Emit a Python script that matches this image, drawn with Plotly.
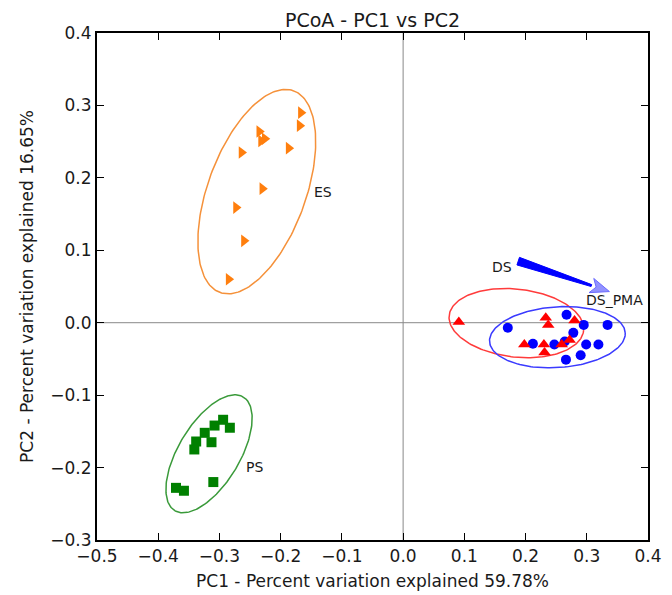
import numpy as np
import plotly.graph_objects as go

# ---- data ----
es_x = [-0.167, -0.169, -0.235, -0.226, -0.232, -0.187, -0.264, -0.230, -0.273, -0.260, -0.285]
es_y = [0.290, 0.272, 0.264, 0.254, 0.251, 0.241, 0.235, 0.185, 0.159, 0.113, 0.060]

ps_x = [-0.294, -0.283, -0.308, -0.324, -0.313, -0.338, -0.341, -0.310, -0.371, -0.358]
ps_y = [-0.134, -0.145, -0.142, -0.152, -0.165, -0.164, -0.175, -0.220, -0.228, -0.232]

ds_x = [0.091, 0.233, 0.237, 0.280, 0.198, 0.230, 0.231, 0.259, 0.272]
ds_y = [0.001, 0.007, -0.003, 0.003, -0.030, -0.030, -0.041, -0.030, -0.024]

pma_x = [0.171, 0.267, 0.295, 0.334, 0.278, 0.212, 0.247, 0.299, 0.319, 0.266, 0.290, 0.264]
pma_y = [-0.007, 0.011, -0.003, -0.003, -0.014, -0.029, -0.030, -0.030, -0.030, -0.051, -0.045, -0.026]

# ellipses: center x, center y, semi-major, semi-minor, angle (deg)
ell_es = (-0.239, 0.181, 0.152, 0.078, 64.4)
ell_ps = (-0.317, -0.181, 0.0967, 0.0474, 51.8)
ell_ds = (0.185, -0.0005, 0.1103, 0.047, -5.0)
ell_pma = (0.252, -0.020, 0.111, 0.042, 3.0)

labels = ["ES", "PS", "DS", "DS_PMA"]
label_x = [-0.131, -0.242, 0.161, 0.346]
label_y = [0.181, -0.199, 0.077, 0.032]

arrow_start = (0.188, 0.085)
arrow_end = (0.337, 0.043)

x_ticks = [-0.5, -0.4, -0.3, -0.2, -0.1, 0.0, 0.1, 0.2, 0.3, 0.4]
y_ticks = [-0.3, -0.2, -0.1, 0.0, 0.1, 0.2, 0.3, 0.4]

# ---- layout geometry (page body has an 8px margin) ----
W, H = 664, 587
ML, MR, MT, MB = 89, 24, 25, 55
xr = [-0.5, 0.4]
yr = [-0.3, 0.4]
sx = (W - ML - MR) / (xr[1] - xr[0])
sy = (H - MT - MB) / (yr[1] - yr[0])
FONT = "DejaVu Sans"
TXT = "#1a1a1a"


def ellipse(p, n=200):
    cx, cy, a, b, ang = p
    t = np.linspace(0, 2 * np.pi, n)
    th = np.deg2rad(ang)
    x = cx + a * np.cos(t) * np.cos(th) - b * np.sin(t) * np.sin(th)
    y = cy + a * np.cos(t) * np.sin(th) + b * np.sin(t) * np.cos(th)
    return x, y


fig = go.Figure()

# axis lines through origin
fig.add_shape(type="line", x0=0, x1=0, y0=yr[0], y1=yr[1], line=dict(color="#888888", width=1), layer="below")
fig.add_shape(type="line", x0=xr[0], x1=xr[1], y0=0, y1=0, line=dict(color="#888888", width=1), layer="below")

for p, col in [(ell_es, "#f5913a"), (ell_ps, "#3a9a3a"), (ell_ds, "#ff3b3b"), (ell_pma, "#3b3bff")]:
    ex, ey = ellipse(p)
    fig.add_trace(go.Scatter(x=ex, y=ey, mode="lines", line=dict(color=col, width=1.5), hoverinfo="skip"))

fig.add_trace(go.Scatter(x=es_x, y=es_y, mode="markers",
                         marker=dict(symbol="triangle-right", size=11, color="#ff7f0e")))
fig.add_trace(go.Scatter(x=ps_x, y=ps_y, mode="markers",
                         marker=dict(symbol="square", size=10, color="#008000")))
fig.add_trace(go.Scatter(x=pma_x, y=pma_y, mode="markers",
                         marker=dict(symbol="circle", size=10, color="#0000ff")))
fig.add_trace(go.Scatter(x=ds_x, y=ds_y, mode="markers",
                         marker=dict(symbol="triangle-up", size=11, color="#ff0000")))

# tapered arrow built in pixel space, converted back to data
x0p, y0p = arrow_start[0] * sx, arrow_start[1] * sy
x1p, y1p = arrow_end[0] * sx, arrow_end[1] * sy
dx, dy = x1p - x0p, y1p - y0p
L = np.hypot(dx, dy)
ux, uy = dx / L, dy / L
nx, ny = -uy, ux
head_len, head_w = 19, 7.5
bx, by = x1p - ux * head_len, y1p - uy * head_len
tw, hw = 4.0, 1.0
shaft = [(x0p + nx * tw, y0p + ny * tw), (bx + nx * hw, by + ny * hw),
         (bx - nx * hw, by - ny * hw), (x0p - nx * tw, y0p - ny * tw), (x0p + nx * tw, y0p + ny * tw)]
head = [(bx + nx * head_w, by + ny * head_w), (x1p, y1p), (bx - nx * head_w, by - ny * head_w),
        (bx + ux * 5, by + uy * 5), (bx + nx * head_w, by + ny * head_w)]
fig.add_trace(go.Scatter(x=[p[0] / sx for p in shaft], y=[p[1] / sy for p in shaft], mode="lines",
                         fill="toself", fillcolor="#0000ff", line=dict(color="#0000ff", width=1), hoverinfo="skip"))
fig.add_trace(go.Scatter(x=[p[0] / sx for p in head], y=[p[1] / sy for p in head], mode="lines",
                         fill="toself", fillcolor="rgba(110,110,255,0.75)", line=dict(color="#6a6aff", width=1),
                         hoverinfo="skip"))

for t, lx, ly in zip(labels, label_x, label_y):
    fig.add_annotation(x=lx, y=ly, text=t, showarrow=False,
                       font=dict(family=FONT, size=14, color=TXT))

axis_common = dict(showgrid=False, zeroline=False, ticks="inside", ticklen=7, tickwidth=1,
                   tickcolor="black", mirror="allticks", showline=True, linecolor="black", linewidth=2,
                   tickfont=dict(family=FONT, size=17, color=TXT), tickformat=".1f", automargin=False)

fig.update_layout(
    width=W, height=H,
    margin=dict(l=ML, r=MR, t=MT, b=MB),
    paper_bgcolor="white", plot_bgcolor="white",
    showlegend=False,
    title=dict(text="PCoA - PC1 vs PC2", x=(ML + (W - ML - MR) / 2) / W, xanchor="center",
               y=1 - 12 / H, yanchor="middle", pad=dict(t=0, b=0), font=dict(family=FONT, size=19, color=TXT),
               automargin=False),
    xaxis=dict(range=xr, tickvals=x_ticks,
               title=dict(text="PC1 - Percent variation explained 59.78%", standoff=10,
                          font=dict(family=FONT, size=17, color=TXT)),
               **axis_common),
    yaxis=dict(range=yr, tickvals=y_ticks,
               title=dict(text="PC2 - Percent variation explained 16.65%", standoff=12,
                          font=dict(family=FONT, size=17, color=TXT)),
               **axis_common),
)

fig.write_html("out.html")
